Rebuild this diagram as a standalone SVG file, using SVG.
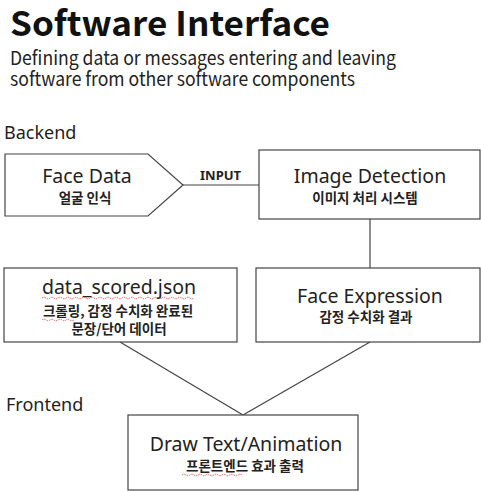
<svg xmlns="http://www.w3.org/2000/svg" width="481" height="491" viewBox="0 0 481 491">
<style>
.t{font-family:"Noto Sans","Noto Sans CJK KR",sans-serif;fill:#111}
.h{font-family:"Noto Sans CJK KR","Noto Sans",sans-serif;fill:#111}
.title{font-size:34px;font-weight:bold}
.sub{font-size:19px;fill:#222}
.sec{font-size:18px;fill:#222}
.lbl{font-size:19.5px;text-anchor:middle;fill:#222}
.ko{font-family:"Noto Sans CJK KR",sans-serif;font-size:13.5px;font-weight:bold;text-anchor:middle;fill:#222}
.edge{font-family:"Noto Sans","Liberation Sans",sans-serif;font-size:13px;font-weight:bold;fill:#222}
.box{fill:#fff;stroke:#444;stroke-width:1.2}
.ln{stroke:#444;stroke-width:1.2;fill:none}
.sq{stroke:#e03030;stroke-width:0.8;fill:none;stroke-dasharray:1.5 1}
</style>
<rect width="481" height="491" fill="#fff"/>
<text class="h title" x="10" y="36" textLength="320" lengthAdjust="spacingAndGlyphs">Software Interface</text>
<text class="h sub" x="10" y="65" textLength="386" lengthAdjust="spacingAndGlyphs">Defining data or messages entering and leaving</text>
<text class="h sub" x="10" y="86" textLength="345" lengthAdjust="spacingAndGlyphs">software from other software components</text>
<text class="t sec" x="4" y="139">Backend</text>
<text class="t sec" x="6" y="411">Frontend</text>
<g id="connectors">
<line class="ln" x1="183" y1="185" x2="259" y2="185"/>
<line class="ln" x1="370" y1="219" x2="370" y2="268"/>
<line class="ln" x1="120" y1="342" x2="243" y2="415"/>
<line class="ln" x1="370" y1="342" x2="243" y2="415"/>
<text class="edge" x="200" y="180">INPUT</text>
</g>
<g id="face-data">
<polygon class="box" points="5,154 148,154 183,185 148,216 5,216"/>
<text class="t lbl" x="87" y="183">Face Data</text>
<text class="ko" x="85" y="203">얼굴 인식</text>
</g>
<g id="image-detection">
<rect class="box" x="259" y="150" width="221" height="69"/>
<text class="t lbl" x="370" y="183">Image Detection</text>
<text class="ko" x="365" y="203">이미지 처리 시스템</text>
</g>
<g id="data-scored">
<rect class="box" x="4" y="268" width="233" height="74"/>
<text class="t lbl" x="119" y="294">data_scored.json</text>
<path class="sq" d="M42,298 q2,-1.5 4,0 t4,0 t4,0 t4,0 t4,0 t4,0 t4,0 t4,0 t4,0 t4,0 t4,0 t4,0 t4,0 t4,0 t4,0 t4,0 t4,0 t4,0 t4,0 t4,0 t4,0 t4,0 t4,0 t4,0 t4,0 t4,0 t4,0 t4,0 t4,0 t4,0 t4,0 t4,0 t4,0 t4,0 t4,0 t4,0 t4,0 t4,0"/>
<text class="ko" x="118" y="316">크롤링, 감정 수치화 완료된</text>
<path class="sq" d="M42,320 q2,-1.5 4,0 t4,0 t4,0 t4,0 t4,0 t4,0 t4,0 t4,0"/>
<text class="ko" x="119" y="334">문장/단어 데이터</text>
</g>
<g id="face-expression">
<rect class="box" x="256" y="268" width="224" height="74"/>
<text class="t lbl" x="370" y="303">Face Expression</text>
<text class="ko" x="366" y="322">감정 수치화 결과</text>
</g>
<g id="draw-text">
<rect class="box" x="128" y="415" width="230" height="75"/>
<text class="t lbl" x="246" y="451">Draw Text/Animation</text>
<text class="ko" x="245" y="471">프론트엔드 효과 출력</text>
<path class="sq" d="M182,475 q2,-1.5 4,0 t4,0 t4,0 t4,0 t4,0 t4,0 t4,0 t4,0 t4,0 t4,0 t4,0 t4,0 t4,0 t4,0 t4,0"/>
</g>
</svg>
